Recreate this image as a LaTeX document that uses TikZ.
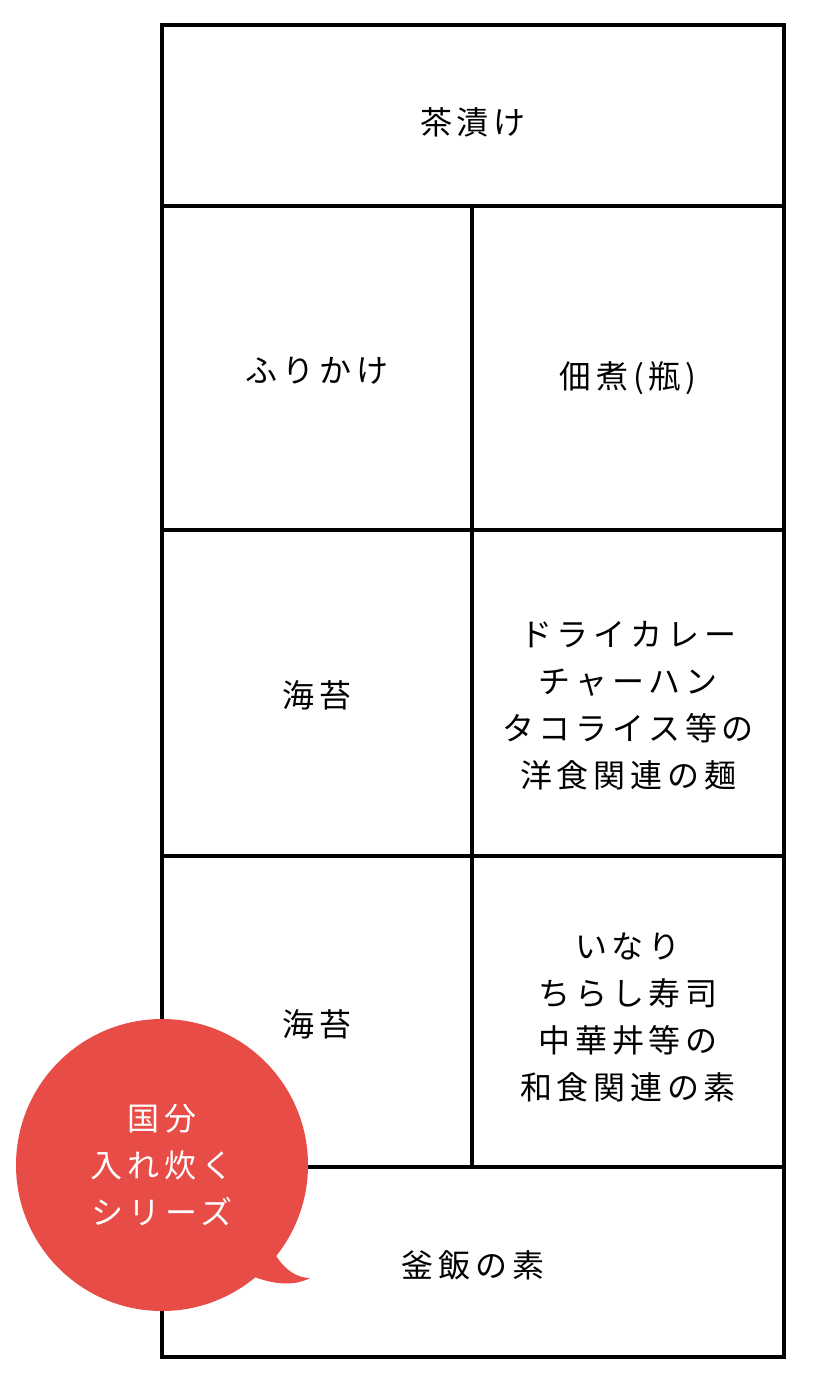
\documentclass[tikz,border=0pt]{standalone}
\usepackage{fontspec}
\usetikzlibrary{positioning}
\newfontfamily\jp{Noto Sans CJK JP}[LetterSpace=15]
\definecolor{bubblered}{HTML}{E84C47}
\tikzstyle{cell} = [draw, line width=4pt, rectangle, inner sep=0pt,
    outer sep=0pt, align=center]
\tikzstyle{wide} = [cell, minimum width=622pt]
\tikzstyle{lcell} = [cell, minimum width=310pt]
\tikzstyle{rcell} = [cell, minimum width=312pt]
\tikzstyle{bubble} = [circle, fill=bubblered, text=white, inner sep=0pt,
    minimum size=292pt, align=center]
\tikzset{every label/.style={align=center, inner sep=0pt}}

\begin{document}
\begin{tikzpicture}[x=1pt, y=-1pt, font={\jp\fontsize{32}{47}\selectfont}]
    \useasboundingbox (0,0) rectangle (813,1380);
    \node [wide, minimum height=181pt, anchor=north west,
        label={[yshift=-7pt]center:茶漬け}] (chazuke) at (162,25) {};
    \node [lcell, minimum height=324pt, below right=0pt of chazuke.south west,
        label={[yshift=-3pt]center:ふりかけ}] (furikake) {};
    \node [rcell, minimum height=324pt, right=0pt of furikake,
        label={[yshift=-10pt]center:佃煮(瓶)}] (tsukudani) {};
    \node [lcell, minimum height=326pt, below=0pt of furikake,
        label={[yshift=-2pt]center:海苔}] (nori) {};
    \node [rcell, minimum height=326pt, right=0pt of nori,
        label={[yshift=-13pt]center:ドライカレー\\チャーハン\\タコライス等の\\洋食関連の麺}] (yoshoku) {};
    \node [lcell, minimum height=311pt, below=0pt of nori,
        label={[yshift=-13pt]center:海苔}] (noriw) {};
    \node [rcell, minimum height=311pt, right=0pt of noriw,
        label={[yshift=-6pt]center:いなり\\ちらし寿司\\中華丼等の\\和食関連の素}] (washoku) {};
    \node [wide, minimum height=190pt, below right=0pt of noriw.south west,
        label={[yshift=-3pt]center:釜飯の素}] (kamameshi) {};
    % speech bubble
    \fill [bubblered] (275,1254) .. controls (285,1271) and (298,1278) .. (310,1278)
        .. controls (295,1286) and (274,1285) .. (252,1276) -- cycle;
    \node [bubble] (kokubu) at (162,1165) {国分\\入れ炊く\\シリーズ};
\end{tikzpicture}
\end{document}
